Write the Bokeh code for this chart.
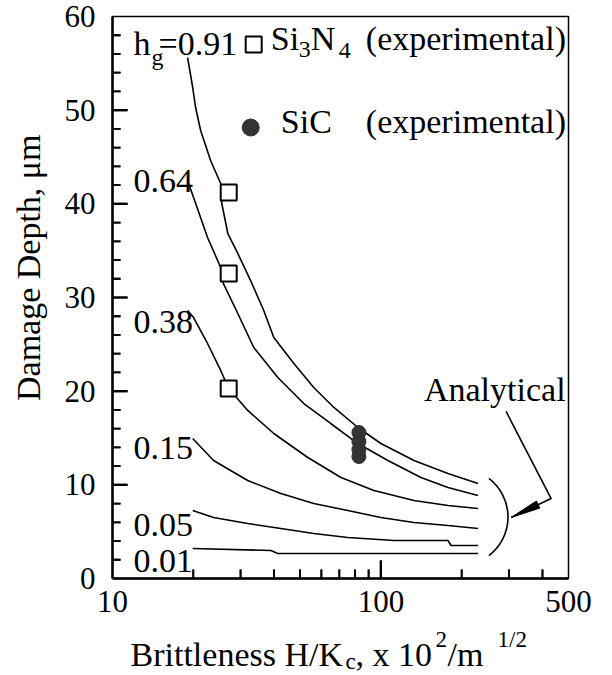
from bokeh.plotting import figure
from bokeh.layouts import column
from bokeh.models import (Label, FixedTicker, SingleIntervalTicker, Range1d,
                          BasicTickFormatter, BoxAnnotation, Arrow)
from bokeh.embed import file_html
from bokeh.resources import INLINE

# ---------------- data ----------------
hg_labels = ["0.91", "0.64", "0.38", "0.15", "0.05", "0.01"]

x_091 = [19.05, 19.9, 20.4, 21.3, 23.2, 25.3, 25.5, 26.9, 29.3, 32.7, 36.6, 39.9, 47.4, 56.2, 66.8, 82.1, 100, 132.8, 177.8, 230.1]
y_091 = [55.62, 52.42, 50.28, 47.83, 44.63, 42.17, 40.14, 36.83, 34.70, 31.81, 28.61, 25.73, 22.95, 20.39, 18.26, 16.12, 14.41, 12.60, 11.21, 10.14]

x_064 = [19.2, 20.05, 22.6, 25.3, 25.9, 29.3, 33.6, 41.3, 51.6, 65.0, 82.1, 106.2, 141.0, 177.8, 230.1]
y_064 = [42.17, 40.68, 36.41, 33.20, 31.49, 28.29, 24.66, 21.46, 18.68, 16.55, 14.41, 12.60, 10.78, 9.72, 8.86]

x_038 = [19.05, 20.05, 22.6, 25.3, 27.1, 31.9, 39.9, 53.4, 71.0, 94.2, 132.8, 177.8, 230.1]
y_038 = [28.61, 27.86, 25.09, 22.21, 20.28, 17.94, 15.48, 12.92, 10.78, 9.39, 8.33, 7.79, 7.47]

x_015 = [19.9, 23.8, 31.9, 42.4, 56.2, 75.3, 100, 132.8, 177.8, 230.1]
y_015 = [14.95, 12.60, 10.46, 9.07, 8.01, 7.26, 6.51, 5.98, 5.66, 5.34]

x_005 = [19.9, 23.8, 31.9, 42.4, 56.2, 75.3, 111.9, 177.8, 182.5, 230.1]
y_005 = [7.26, 6.51, 5.87, 5.34, 4.80, 4.38, 4.06, 4.06, 3.52, 3.52]

x_001 = [19.9, 38.9, 41.3, 230.1]
y_001 = [3.20, 2.99, 2.67, 2.67]

si3n4_x = [27.1, 27.1, 27.1]
si3n4_y = [41.21, 32.56, 20.28]

sic_x = [82.8, 82.8, 82.8, 82.8]
sic_y = [15.59, 14.63, 13.77, 13.02]

x_ticks = [10, 100, 500]
x_minor_ticks = [20, 30, 40, 50, 60, 70, 80, 90, 200, 300, 400]
y_major_ticks = [10, 20, 30, 40, 50]
y_minor_ticks = [2, 4, 6, 8, 12, 14, 16, 18, 22, 24, 26, 28, 32, 34, 36, 38,
                 42, 44, 46, 48, 52, 54, 56, 58]

FONT = "Liberation Serif"
PX_Y = 9.367      # pixels per y unit in the frame
PX_DEC = 268.0    # pixels per decade on the x axis
BASE_SHIFT = 0.36 # baseline correction (em)
FRAME_L, FRAME_R = 112, 568

# ---------------- main figure ----------------
p = figure(width=612, height=626, x_axis_type="log",
           x_range=Range1d(10, 500), y_range=Range1d(0, 60),
           output_backend="svg", toolbar_location=None,
           min_border_left=FRAME_L, min_border_right=612 - FRAME_R,
           min_border_top=16, min_border_bottom=48)
p.grid.visible = False
p.outline_line_color = "black"
p.outline_line_width = 1.5
p.background_fill_color = "white"
p.border_fill_color = "white"

p.xaxis.ticker = FixedTicker(ticks=x_ticks, minor_ticks=x_minor_ticks)
p.xaxis.formatter = BasicTickFormatter()
p.yaxis.ticker = SingleIntervalTicker(interval=10, num_minor_ticks=5)

for ax in (p.xaxis, p.yaxis):
    ax.axis_line_width = 2.5
    ax.axis_line_color = "black"
    ax.major_tick_out = 0
    ax.minor_tick_out = 0
    ax.major_tick_in = 0
    ax.minor_tick_in = 0
    ax.major_label_text_font = FONT
    ax.major_label_text_font_size = "31px"
    ax.major_label_text_color = "black"

p.xaxis.major_label_standoff = 12
p.yaxis.major_label_standoff = 17

p.yaxis.axis_label = "\u00a0" * 7 + "Damage Depth, μm"
p.yaxis.axis_label_text_font = FONT
p.yaxis.axis_label_text_font_size = "34px"
p.yaxis.axis_label_text_font_style = "normal"
p.yaxis.axis_label_text_color = "black"
p.yaxis.axis_label_standoff = 15

# inward tick marks inside the frame (annotation level, like the labels)
def tick(x0, y0, x1, y1, bl, br, bb, bt, w):
    p.add_layout(BoxAnnotation(left=bl, right=br, bottom=bb, top=bt,
                               fill_color="black", fill_alpha=1.0,
                               line_color=None))
    p.add_layout(Arrow(x_start=x0, y_start=y0, x_end=x1, y_end=y1,
                       start=None, end=None, line_color="black", line_width=w))

for ticks, length_px, thick_px in [(y_major_ticks, 15, 2.2), (y_minor_ticks, 8, 1.8)]:
    right = 10 * 10 ** (length_px / PX_DEC)
    h = thick_px / 2 / PX_Y
    for t in ticks:
        tick(10, t, right, t, 10, right, t - h, t + h, thick_px)

for ticks, length_px, thick_px in [([t for t in x_ticks if 10 < t < 500], 18, 2.2),
                                   (x_minor_ticks, 9, 1.8)]:
    f = 10 ** (thick_px / 2 / PX_DEC)
    top = length_px / PX_Y
    for t in ticks:
        tick(t, 0, t, top, t / f, t * f, 0, top, thick_px)

# ---------------- curves ----------------
for xs, ys in [(x_091, y_091), (x_064, y_064), (x_038, y_038),
               (x_015, y_015), (x_005, y_005), (x_001, y_001)]:
    p.line(xs, ys, line_color="black", line_width=1.6)

p.scatter(si3n4_x, si3n4_y, marker="square", size=16, fill_color="white",
          line_color="black", line_width=2)
p.scatter(sic_x, sic_y, marker="circle", size=14, fill_color="#333333",
          line_color="#333333")

# legend markers
p.scatter([33.58], [57.01], marker="square", size=16, fill_color="white",
          line_color="black", line_width=2)
p.scatter([32.73], [48.15], marker="circle", size=17, fill_color="#333333",
          line_color="#333333")

# analytical bracket + leader
p.arc(x=[196.3], y=[6.57], radius=48.5, radius_units="screen",
      start_angle=-0.92, end_angle=0.92, line_color="black", line_width=1.6)
p.line([292.7, 430.9, 305.6], [17.83, 8.54, 6.51], line_color="black", line_width=1.6)
p.patch([305.6, 391.1, 379.8], [6.51, 7.52, 8.28], color="black")

# ---------------- texts ----------------
def lab(fig, x, y, text, fs, unit):
    fig.add_layout(Label(x=x, y=y + BASE_SHIFT * fs / unit, text=text,
                         text_font=FONT, text_font_size=f"{fs}px",
                         text_color="black", text_baseline="alphabetic",
                         text_align="left"))

# curve labels
lab(p, 11.98, 55.84, "h", 34, PX_Y)
lab(p, 13.98, 54.77, "g", 24, PX_Y)
lab(p, 14.85, 55.84, "=" + hg_labels[0], 34, PX_Y)
lab(p, 11.98, 41.10, hg_labels[1], 34, PX_Y)
lab(p, 11.98, 26.05, hg_labels[2], 34, PX_Y)
lab(p, 11.98, 12.60, hg_labels[3], 34, PX_Y)
lab(p, 11.98, 4.38, hg_labels[4], 34, PX_Y)
lab(p, 11.98, 0.53, hg_labels[5], 34, PX_Y)

# legend texts
lab(p, 38.87, 56.37, "Si", 34, PX_Y)
lab(p, 49.43, 55.52, "3", 24, PX_Y)
lab(p, 54.82, 56.37, "N", 34, PX_Y)
lab(p, 69.72, 55.41, "4", 24, PX_Y)
lab(p, 87.9, 56.37, "(experimental)", 34, PX_Y)
lab(p, 42.36, 47.51, "SiC", 34, PX_Y)
lab(p, 87.9, 47.51, "(experimental)", 34, PX_Y)

lab(p, 144.7, 18.90, "Analytical", 34, PX_Y)

# ---------------- x-axis title strip (with sub/superscripts) ----------------
H2 = 49
q = figure(width=612, height=H2, x_range=Range1d(FRAME_L, FRAME_R),
           y_range=Range1d(0, H2),
           output_backend="svg", toolbar_location=None,
           x_axis_location=None, y_axis_location=None,
           min_border_left=FRAME_L, min_border_right=612 - FRAME_R,
           min_border_top=0, min_border_bottom=0)
q.grid.visible = False
q.outline_line_color = None
q.background_fill_color = "white"
q.border_fill_color = "white"

# (page x, baseline height above the page bottom) in pixels
lab(q, 130, 675 - 666, "Brittleness H/K", 34, 1)
lab(q, 345, 675 - 669, "c", 23, 1)
lab(q, 355, 675 - 666, ", x 10", 34, 1)
lab(q, 435, 675 - 647, "2", 23, 1)
lab(q, 447, 675 - 666, "/m", 34, 1)
lab(q, 497, 675 - 647, "1/2", 23, 1)

layout = column(p, q, spacing=0)
open("out.html", "w").write(file_html(layout, INLINE))
